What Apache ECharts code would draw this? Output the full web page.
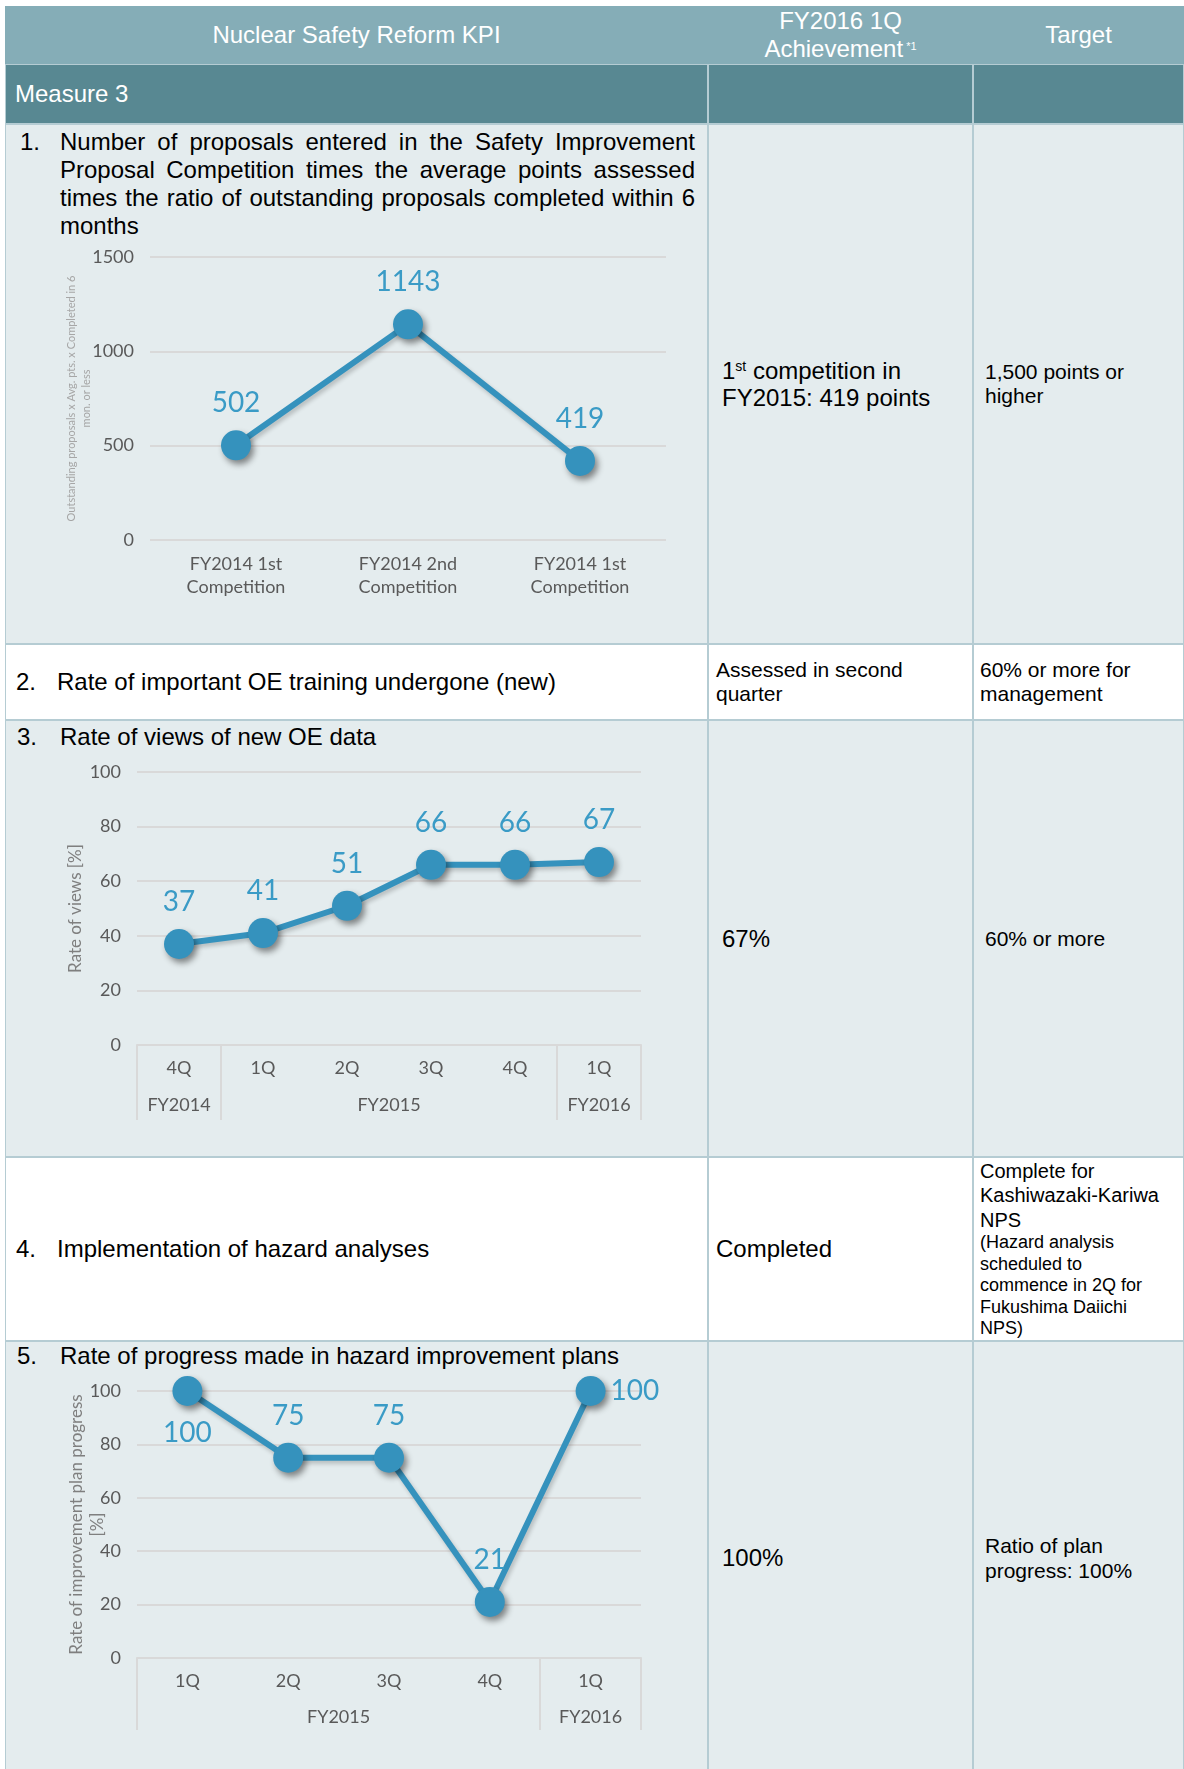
<!DOCTYPE html>
<html>
<head>
<meta charset="utf-8">
<title>Nuclear Safety Reform KPI - Measure 3</title>
<script src="https://cdn.jsdelivr.net/npm/echarts@6.0.0/dist/echarts.min.js"></script>
<style>
  body { margin: 0; background: #fff; font-family: 'Liberation Sans', Arial, sans-serif; color: #000; }
  #page { position: relative; width: 1184px; height: 1769px; overflow: hidden; }
  .cell { position: absolute; box-sizing: border-box; border: 1px solid #B5CCD3; }
  .light { background: #E4ECEE; }
  .white { background: #fff; }
  .dark { background: #588892; }
  .mid { display: flex; align-items: center; }
  .t { position: absolute; white-space: nowrap; }
  .j { text-align: justify; text-align-last: justify; }
  .chart { position: absolute; }
  .sup { position: relative; top: -0.6em; line-height: 0; }
</style>
</head>
<body>
<div id="page">
  <!-- header -->
  <div class="cell" style="left:5px;top:6px;width:1179px;height:58px;background:#85ADB7;border-color:#85ADB7;"></div>
  <div class="t" style="left:5px;top:6px;width:703px;height:58px;line-height:58px;text-align:center;color:#fff;font-size:24px;">Nuclear Safety Reform KPI</div>
  <div class="t" style="left:708px;top:7px;width:265px;text-align:center;color:#fff;font-size:24px;line-height:28px;">FY2016 1Q<br>Achievement<span class="sup" style="font-size:11px;"> *1</span></div>
  <div class="t" style="left:973px;top:6px;width:211px;height:58px;line-height:58px;text-align:center;color:#fff;font-size:24px;">Target</div>

  <!-- measure row -->
  <div class="cell dark mid" style="left:5px;top:64px;width:703px;height:60px;"><span style="color:#fff;font-size:24px;margin-left:9px;">Measure 3</span></div>
  <div class="cell dark" style="left:708px;top:64px;width:265px;height:60px;"></div>
  <div class="cell dark" style="left:973px;top:64px;width:211px;height:60px;"></div>

  <!-- row 1 -->
  <div class="cell light" style="left:5px;top:124px;width:703px;height:520px;"></div>
  <div class="cell light mid" style="left:708px;top:124px;width:265px;height:520px;">
    <div style="margin-left:13px;font-size:24px;line-height:27px;">1<span class="sup" style="font-size:14px;">st</span> competition in<br>FY2015: 419 points</div>
  </div>
  <div class="cell light mid" style="left:973px;top:124px;width:211px;height:520px;">
    <div style="margin-left:11px;font-size:21px;line-height:24px;">1,500 points or<br>higher</div>
  </div>
  <div class="t" style="left:20px;top:128px;font-size:24px;line-height:28px;">1.</div>
  <div style="position:absolute;left:60px;top:128px;width:635px;font-size:24px;line-height:28px;">
    <div class="j">Number of proposals entered in the Safety Improvement</div>
    <div class="j">Proposal Competition times the average points assessed</div>
    <div class="j">times the ratio of outstanding proposals completed within 6</div>
    <div>months</div>
  </div>

  <!-- row 2 -->
  <div class="cell white mid" style="left:5px;top:644px;width:703px;height:76px;">
    <span style="font-size:24px;margin-left:10px;width:41px;display:inline-block;">2.</span><span style="font-size:24px;">Rate of important OE training undergone (new)</span>
  </div>
  <div class="cell white mid" style="left:708px;top:644px;width:265px;height:76px;">
    <div style="margin-left:7px;font-size:21px;line-height:24px;">Assessed in second<br>quarter</div>
  </div>
  <div class="cell white mid" style="left:973px;top:644px;width:211px;height:76px;">
    <div style="margin-left:6px;font-size:21px;line-height:24px;">60% or more for<br>management</div>
  </div>

  <!-- row 3 -->
  <div class="cell light" style="left:5px;top:720px;width:703px;height:437px;"></div>
  <div class="cell light mid" style="left:708px;top:720px;width:265px;height:437px;"><span style="margin-left:13px;font-size:24px;">67%</span></div>
  <div class="cell light mid" style="left:973px;top:720px;width:211px;height:437px;"><span style="margin-left:11px;font-size:21px;">60% or more</span></div>
  <div class="t" style="left:17px;top:723px;font-size:24px;line-height:28px;">3.</div>
  <div class="t" style="left:60px;top:723px;font-size:24px;line-height:28px;">Rate of views of new OE data</div>

  <!-- row 4 -->
  <div class="cell white mid" style="left:5px;top:1157px;width:703px;height:184px;">
    <span style="font-size:24px;margin-left:10px;width:41px;display:inline-block;">4.</span><span style="font-size:24px;">Implementation of hazard analyses</span>
  </div>
  <div class="cell white mid" style="left:708px;top:1157px;width:265px;height:184px;"><span style="margin-left:7px;font-size:24px;">Completed</span></div>
  <div class="cell white mid" style="left:973px;top:1157px;width:211px;height:184px;">
    <div style="margin-left:6px;white-space:nowrap;">
      <div style="font-size:20px;line-height:24.5px;">Complete for<br>Kashiwazaki-Kariwa<br>NPS</div>
      <div style="font-size:18px;line-height:21.5px;">(Hazard analysis<br>scheduled to<br>commence in 2Q for<br>Fukushima Daiichi<br>NPS)</div>
    </div>
  </div>

  <!-- row 5 -->
  <div class="cell light" style="left:5px;top:1341px;width:703px;height:440px;"></div>
  <div class="cell light mid" style="left:708px;top:1341px;width:265px;height:434px;"><span style="margin-left:13px;font-size:24px;">100%</span></div>
  <div class="cell light mid" style="left:973px;top:1341px;width:211px;height:434px;">
    <div style="margin-left:11px;font-size:21px;line-height:25px;">Ratio of plan<br>progress: 100%</div>
  </div>
  <div class="t" style="left:17px;top:1342px;font-size:24px;line-height:28px;">5.</div>
  <div class="t" style="left:60px;top:1342px;font-size:24px;line-height:28px;">Rate of progress made in hazard improvement plans</div>

  <!-- charts -->
  <div id="proposalChart" class="chart" style="left:5px;top:240px;width:703px;height:400px;"></div>
  <div id="viewsChart" class="chart" style="left:5px;top:752px;width:703px;height:400px;"></div>
  <div id="planChart" class="chart" style="left:5px;top:1370px;width:703px;height:399px;"></div>
</div>

<script>
// chart 1: safety improvement proposal competition
const compCategories = ['FY2014 1st\nCompetition', 'FY2014 2nd\nCompetition', 'FY2014 1st\nCompetition'];
const compValues = [502, 1143, 419];
const compTicks = [0, 500, 1000, 1500];

// chart 2: rate of views of new OE data
const viewQuarters = ['4Q', '1Q', '2Q', '3Q', '4Q', '1Q'];
const viewYears = ['FY2014', 'FY2015', 'FY2016'];
const viewYearSpans = [1, 4, 1];
const viewValues = [37, 41, 51, 66, 66, 67];

// chart 3: hazard improvement plan progress
const planQuarters = ['1Q', '2Q', '3Q', '4Q', '1Q'];
const planYears = ['FY2015', 'FY2016'];
const planYearSpans = [4, 1];
const planValues = [100, 75, 75, 21, 100];

const FONT = 'Lato, "Open Sans", sans-serif';
const LINE_BLUE = '#3592BD';
const LABEL_BLUE = '#3A9BC6';
const GRID_GREY = '#D9D9D9';
const TEXT_GREY = '#595959';

function valueAxis(max, interval, name, nameGap, nameSize, nameColor) {
  return {
    type: 'value',
    min: 0,
    max: max,
    interval: interval,
    name: name,
    nameLocation: 'middle',
    nameGap: nameGap,
    nameMoveOverlap: false,
    nameTextStyle: { color: nameColor, fontSize: nameSize, fontFamily: FONT, lineHeight: nameSize + 4 },
    axisLine: { show: false },
    axisTick: { show: false },
    axisLabel: { color: TEXT_GREY, fontSize: 18, fontFamily: FONT, margin: 16, formatter: (v) => String(v) },
    splitLine: { lineStyle: { color: GRID_GREY, width: 2 } }
  };
}

// second x axis: fiscal-year groups under the quarter labels
function yearAxis(years, spans, tickLen, margin) {
  const total = spans.reduce((a, b) => a + b, 0);
  const slots = new Array(total * 2 + 1).fill('');
  const edges = [0];
  let start = 0;
  years.forEach((y, i) => {
    slots[start * 2 + spans[i]] = y;
    start += spans[i];
    edges.push(start * 2);
  });
  return {
    type: 'category',
    position: 'bottom',
    boundaryGap: false,
    data: slots,
    axisLine: { show: false },
    axisTick: {
      show: true,
      length: tickLen,
      interval: (idx) => edges.indexOf(idx) >= 0,
      lineStyle: { color: GRID_GREY, width: 2 }
    },
    axisLabel: {
      interval: (idx, val) => val !== '',
      margin: margin,
      color: TEXT_GREY,
      fontSize: 18,
      fontFamily: FONT
    },
    splitLine: { show: false }
  };
}

function lineSeries(data, labelPos) {
  return {
    type: 'line',
    data: data,
    symbol: 'circle',
    symbolSize: 30,
    lineStyle: {
      color: LINE_BLUE, width: 6,
      shadowColor: 'rgba(0,0,0,0.2)', shadowBlur: 4, shadowOffsetX: 2, shadowOffsetY: 3
    },
    itemStyle: {
      color: LINE_BLUE,
      shadowColor: 'rgba(0,0,0,0.45)', shadowBlur: 6, shadowOffsetX: 3, shadowOffsetY: 4
    },
    label: {
      show: true,
      position: labelPos || 'top',
      distance: 13,
      color: LABEL_BLUE,
      fontSize: 28,
      fontFamily: FONT
    },
    animation: false
  };
}

const proposalOption = {
  animation: false,
  grid: { left: 145, top: 17, width: 516, height: 283 },
  xAxis: {
    type: 'category',
    data: compCategories,
    axisLine: { show: false },
    axisTick: { show: false },
    axisLabel: { color: TEXT_GREY, fontSize: 18, fontFamily: FONT, lineHeight: 23, margin: 13 }
  },
  yAxis: valueAxis(compTicks[compTicks.length - 1], compTicks[1] - compTicks[0],
    'Outstanding proposals x Avg. pts. x Completed in 6\nmon. or less', 56, 11, '#A6A6A6'),
  series: [lineSeries(compValues)]
};

const viewsOption = {
  animation: false,
  grid: { left: 132, top: 20, width: 504, height: 273 },
  xAxis: [
    {
      type: 'category',
      data: viewQuarters,
      axisLine: { lineStyle: { color: GRID_GREY, width: 2 } },
      axisTick: { show: false },
      axisLabel: { color: TEXT_GREY, fontSize: 18, fontFamily: FONT, margin: 14 }
    },
    yearAxis(viewYears, viewYearSpans, 75, 51)
  ],
  yAxis: valueAxis(100, 20, 'Rate of views [%]', 51, 17, '#7F7F7F'),
  series: [lineSeries(viewValues)]
};

const planLabelPos = ['bottom', 'top', 'top', 'top', 'right'];
const planSeries = lineSeries(planValues.map((v, i) => ({
  value: v,
  label: { position: planLabelPos[i], distance: planLabelPos[i] === 'right' ? 5 : 13 }
})));

const planOption = {
  animation: false,
  grid: { left: 132, top: 21, width: 504, height: 267 },
  xAxis: [
    {
      type: 'category',
      data: planQuarters,
      axisLine: { lineStyle: { color: GRID_GREY, width: 2 } },
      axisTick: { show: false },
      axisLabel: { color: TEXT_GREY, fontSize: 18, fontFamily: FONT, margin: 14 }
    },
    yearAxis(planYears, planYearSpans, 72, 50)
  ],
  yAxis: valueAxis(100, 20, 'Rate of improvement plan progress\n[%]', 29, 17, '#7F7F7F'),
  series: [planSeries]
};

function initChart(id, option) {
  const chart = echarts.init(document.getElementById(id));
  chart.setOption(option);
  return chart;
}

initChart('proposalChart', proposalOption);
initChart('viewsChart', viewsOption);
initChart('planChart', planOption);
</script>
</body>
</html>
